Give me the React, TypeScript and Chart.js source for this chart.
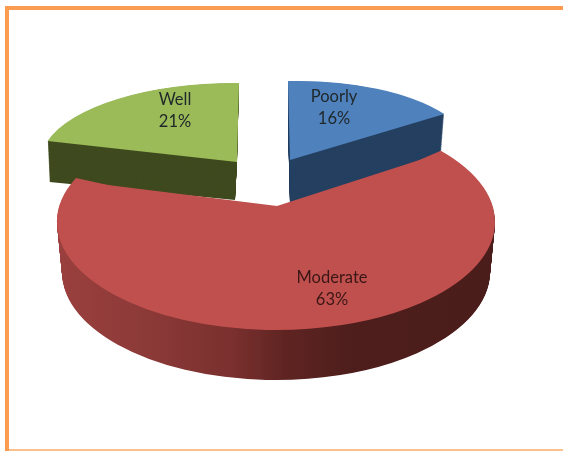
import React, { useEffect, useRef } from "react";
import { Chart, registerables } from "chart.js";

Chart.register(...registerables);

const categories = ["Poorly", "Moderate", "Well"];
const shares = [16, 63, 21];
const faceColors = ["#4f81bd", "#c0504d", "#9bbb59"];
const wallColors = ["#254061", "#7a302e", "#3f4a1f"];

type Frame = [number, number, number, number, number, number];

// Projection of each slice from the unit pie to the page: [a, b, c, d, e, f].
const poorlyTop: Frame = [184, -4.3, 2, 79, 290, 160];
const poorlyBase: Frame = [180, -5.5, 2, 79, 290, 204];
const wellTop: Frame = [196, 1.4, -2, 79, 237, 162];
const wellBase: Frame = [192, -1.7, -2, 79, 235, 200];
const moderateTop: Frame = [219, 0, 0, 108, 276, 222];
const moderateBase: Frame = [214, 0, 0, 108, 276, 272];
const moderateApex: Frame = [204, 0.27, 15, 99.3, 277, 206];

// Foreshortening moves the visible corners of the large slice along its rim.
const rimStartShift = (-8.8 * Math.PI) / 180;
const rimEndShift = (9.6 * Math.PI) / 180;

const wallStops: [number, string][] = [
  [0, "#9a403e"],
  [0.2, "#8c3a38"],
  [0.4, "#7a302e"],
  [0.52, "#5f2422"],
  [0.68, "#4d1e1c"],
  [1, "#4a1c1a"],
];

const labelSpots: [number, number][] = [
  [334, 97],
  [332, 278],
  [175, 100],
];

const mix = (p: Frame, q: Frame, t: number): Frame =>
  p.map((v, i) => v + (q[i] - v) * t) as Frame;

function paintArc(
  ctx: CanvasRenderingContext2D,
  arc: any,
  frame: Frame,
  fill: any,
  startShift = 0,
  endShift = 0
) {
  const piece = Object.create(arc);
  piece.options = { ...arc.options, backgroundColor: fill, borderWidth: 0 };
  piece.startAngle = arc.startAngle + startShift;
  piece.endAngle = arc.endAngle + endShift;
  piece.circumference = piece.endAngle - piece.startAngle;
  const r = arc.outerRadius;
  ctx.save();
  ctx.transform(frame[0] / r, frame[1] / r, frame[2] / r, frame[3] / r, frame[4], frame[5]);
  ctx.translate(-arc.x, -arc.y);
  piece.draw(ctx);
  ctx.restore();
}

const pieDepth = {
  id: "pieDepth",
  beforeDraw(chart: any) {
    const ctx = chart.ctx;
    ctx.save();
    ctx.fillStyle = "#ffffff";
    ctx.fillRect(0, 0, chart.width, chart.height);
    ctx.fillStyle = "#fb9c52";
    ctx.fillRect(5, 6, 4, 445);
    ctx.fillRect(5, 6, 558, 4);
    ctx.fillStyle = "#fcc08a";
    ctx.fillRect(9, 449, 554, 2);
    ctx.restore();
  },
  beforeDatasetsDraw(chart: any) {
    const ctx = chart.ctx;
    const arcs = chart.getDatasetMeta(0).data;
    const steps = 60;

    // Back slices: extruded wall first, then the top face.
    const backs: [number, Frame, Frame][] = [
      [2, wellTop, wellBase],
      [0, poorlyTop, poorlyBase],
    ];
    for (const [i, top, base] of backs) {
      for (let s = steps; s > 0; s--) {
        paintArc(ctx, arcs[i], mix(top, base, s / steps), wallColors[i]);
      }
      paintArc(ctx, arcs[i], top, faceColors[i]);
    }

    // Front slice: shaded wall running left to right, then its face.
    const front = arcs[1];
    for (let s = steps; s > 0; s--) {
      const frame = mix(moderateTop, moderateBase, s / steps);
      const r = front.outerRadius;
      const toLocal = (px: number) => front.x + ((px - frame[4]) * r) / frame[0];
      const shade = ctx.createLinearGradient(toLocal(57), 0, toLocal(495), 0);
      wallStops.forEach(([at, color]) => shade.addColorStop(at, color));
      paintArc(ctx, front, frame, shade, rimStartShift, rimEndShift);
    }
    paintArc(ctx, front, moderateTop, faceColors[1], rimStartShift, rimEndShift);
    paintArc(ctx, front, moderateApex, faceColors[1]);
    return false;
  },
  afterDraw(chart: any) {
    const ctx = chart.ctx;
    ctx.save();
    ctx.font = "16.5px Lato, 'Open Sans', sans-serif";
    ctx.textAlign = "center";
    ctx.textBaseline = "middle";
    categories.forEach((name, i) => {
      const [x, y] = labelSpots[i];
      ctx.fillStyle = i === 1 ? "#3a1716" : "#20282a";
      ctx.fillText(name, x, y);
      ctx.fillText(`${shares[i]}%`, x, y + 22);
    });
    ctx.restore();
  },
};

export default function App() {
  const canvasRef = useRef<HTMLCanvasElement>(null);

  useEffect(() => {
    const chart = new Chart(canvasRef.current as HTMLCanvasElement, {
      type: "pie",
      data: {
        labels: categories,
        datasets: [{ data: shares, backgroundColor: faceColors, borderWidth: 0 }],
      },
      options: {
        animation: false,
        responsive: false,
        events: [],
        plugins: { legend: { display: false }, tooltip: { enabled: false } },
      },
      plugins: [pieDepth],
    } as any);
    return () => chart.destroy();
  }, []);

  return (
    <div style={{ position: "absolute", left: 0, top: 0, width: 563, height: 451 }}>
      <canvas ref={canvasRef} width={563} height={451} style={{ display: "block" }} />
    </div>
  );
}
